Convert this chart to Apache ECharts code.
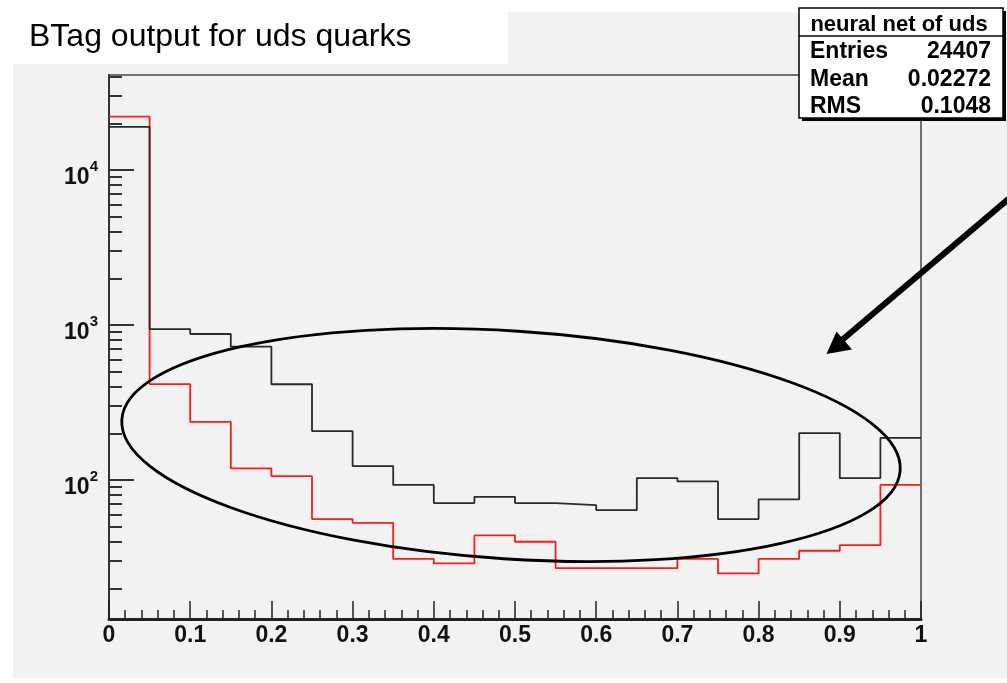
<!DOCTYPE html>
<html>
<head>
<meta charset="utf-8">
<script src="https://cdn.jsdelivr.net/npm/echarts@6/dist/echarts.min.js"></script>
<style>
  html, body { margin: 0; padding: 0; background: #ffffff; }
  #chart { width: 1007px; height: 683px; }
</style>
</head>
<body>
<div id="chart"></div>
<script>
// Bin edges of the neural-net output histogram (20 bins of width 0.05)
const binEdges = [0, 0.05, 0.10, 0.15, 0.20, 0.25, 0.30, 0.35, 0.40, 0.45,
                  0.50, 0.55, 0.60, 0.65, 0.70, 0.75, 0.80, 0.85, 0.90, 0.95, 1.0];

// Bin contents, black histogram
const blackCounts = [19000, 940, 875, 725, 415, 207, 123, 93, 71, 78,
                     71, 69, 64, 103, 98, 56, 75, 201, 103, 187];

// Bin contents, red histogram
const redCounts = [22080, 416, 237, 119, 106, 56, 53, 31, 29, 44,
                   40, 27, 27, 27, 31, 25, 31, 35, 38, 93];

// Log-axis tick positions
const yMajorTicks = [100, 1000, 10000];
const yMinorTicks = [20, 30, 40, 50, 60, 70, 80, 90,
                     200, 300, 400, 500, 600, 700, 800, 900,
                     2000, 3000, 4000, 5000, 6000, 7000, 8000, 9000,
                     20000, 30000, 40000];

// Statistics box contents
const statTitle = 'neural net of uds';
const statNames = ['Entries', 'Mean', 'RMS'];
const statValues = ['24407', '0.02272', '0.1048'];

const chartTitle = 'BTag output for uds quarks';

const FONT = '"Liberation Sans", Arial, Helvetica, sans-serif';

// Step-line points: each bin's left edge, plus the right end of the last bin
function histPoints(counts) {
  return binEdges.map((x, i) => [x, counts[Math.min(i, counts.length - 1)]]);
}

const chart = echarts.init(document.getElementById('chart'), null, { renderer: 'canvas' });

const statRowsY = [51.7, 79.5, 106.7];
const statElements = [
  // shadow and box
  { type: 'rect', z: 100, shape: { x: 802, y: 11, width: 204, height: 110 }, style: { fill: '#000' } },
  { type: 'rect', z: 101, shape: { x: 799, y: 8, width: 204, height: 110 },
    style: { fill: '#ffffff', stroke: '#000', lineWidth: 1.5 } },
  { type: 'line', z: 102, shape: { x1: 799, y1: 36, x2: 1003, y2: 36 }, style: { stroke: '#000', lineWidth: 1.5 } },
  { type: 'text', z: 102, x: 899, y: 25,
    style: { text: statTitle, fill: '#000', font: 'bold 22px ' + FONT, align: 'center', verticalAlign: 'middle' } }
];
statNames.forEach((name, i) => {
  statElements.push({ type: 'text', z: 102, x: 810, y: statRowsY[i],
    style: { text: name, fill: '#000', font: 'bold 23px ' + FONT, align: 'left', verticalAlign: 'middle' } });
  statElements.push({ type: 'text', z: 102, x: 991, y: statRowsY[i],
    style: { text: statValues[i], fill: '#000', font: 'bold 23px ' + FONT, align: 'right', verticalAlign: 'middle' } });
});

const option = {
  animation: false,
  backgroundColor: 'transparent',
  graphic: [
    // canvas background
    { type: 'rect', z: -100, shape: { x: 13, y: 12, width: 994, height: 666 }, style: { fill: '#f2f2f2' } },
    // title pad
    { type: 'rect', z: -99, shape: { x: 0, y: 0, width: 508, height: 64 }, style: { fill: '#ffffff' } },
    { type: 'text', z: -98, x: 29, y: 37.5,
      style: { text: chartTitle, fill: '#000', font: '32px ' + FONT, align: 'left', verticalAlign: 'middle' } },
    // highlight ellipse around the tail region
    { type: 'ellipse', z: 100, x: 511, y: 445, rotation: -0.065,
      shape: { cx: 0, cy: 0, rx: 390, ry: 114 },
      style: { fill: 'none', stroke: '#000', lineWidth: 2.8 } },
    // arrow pointing at the ellipse
    { type: 'line', z: 100, shape: { x1: 1012, y1: 196, x2: 842, y2: 340 },
      style: { stroke: '#000', lineWidth: 6 } },
    { type: 'polygon', z: 100, shape: { points: [[826.5, 354], [836.5, 331.5], [852, 349.5]] },
      style: { fill: '#000' } }
  ].concat(statElements),
  grid: {
    left: 109, top: 75, width: 812, height: 544,
    show: true, borderColor: '#444', borderWidth: 1.5, backgroundColor: 'transparent'
  },
  xAxis: {
    type: 'value', min: 0, max: 1, interval: 0.1,
    axisLine: { show: true, onZero: false, lineStyle: { color: '#222', width: 3 } },
    axisTick: { show: true, inside: true, length: 18, lineStyle: { color: '#222', width: 1.5 } },
    minorTick: { show: true, splitNumber: 5, length: 9, lineStyle: { color: '#222', width: 1.5 } },
    splitLine: { show: false },
    axisLabel: { margin: 5, color: '#111', fontSize: 23, fontWeight: 'bold', fontFamily: FONT }
  },
  yAxis: [
    {
      type: 'log', logBase: 10, min: 12.7, max: 41000,
      axisLine: { show: true, onZero: false, lineStyle: { color: '#333', width: 2 } },
      axisTick: { show: true, inside: true, length: 25, customValues: yMajorTicks,
                  lineStyle: { color: '#333', width: 2 } },
      splitLine: { show: false },
      axisLabel: {
        margin: 11, customValues: yMajorTicks,
        formatter: v => '{b|10}{s|' + Math.round(Math.log10(v)) + '}',
        rich: {
          b: { fontSize: 23, fontWeight: 'bold', fontFamily: FONT, color: '#111',
               lineHeight: 46, verticalAlign: 'top', padding: [19, 0, 0, 0] },
          s: { fontSize: 15, fontWeight: 'bold', fontFamily: FONT, color: '#111',
               lineHeight: 46, verticalAlign: 'top', padding: [12, 0, 0, 0] }
        }
      }
    },
    {
      type: 'log', logBase: 10, min: 12.7, max: 41000, position: 'left',
      axisLine: { show: false },
      axisTick: { show: true, inside: true, length: 13, customValues: yMinorTicks,
                  lineStyle: { color: '#333', width: 2 } },
      splitLine: { show: false },
      axisLabel: { show: false }
    }
  ],
  series: [
    {
      name: 'red', type: 'line', step: 'end', yAxisIndex: 0,
      data: histPoints(redCounts),
      symbol: 'none', showSymbol: false,
      lineStyle: { color: '#ff1a1a', width: 1.8 }, z: 3
    },
    {
      name: 'black', type: 'line', step: 'end', yAxisIndex: 0,
      data: histPoints(blackCounts),
      symbol: 'none', showSymbol: false,
      lineStyle: { color: '#2a2a2a', width: 1.8 }, z: 4
    }
  ]
};

chart.setOption(option);
</script>
</body>
</html>
